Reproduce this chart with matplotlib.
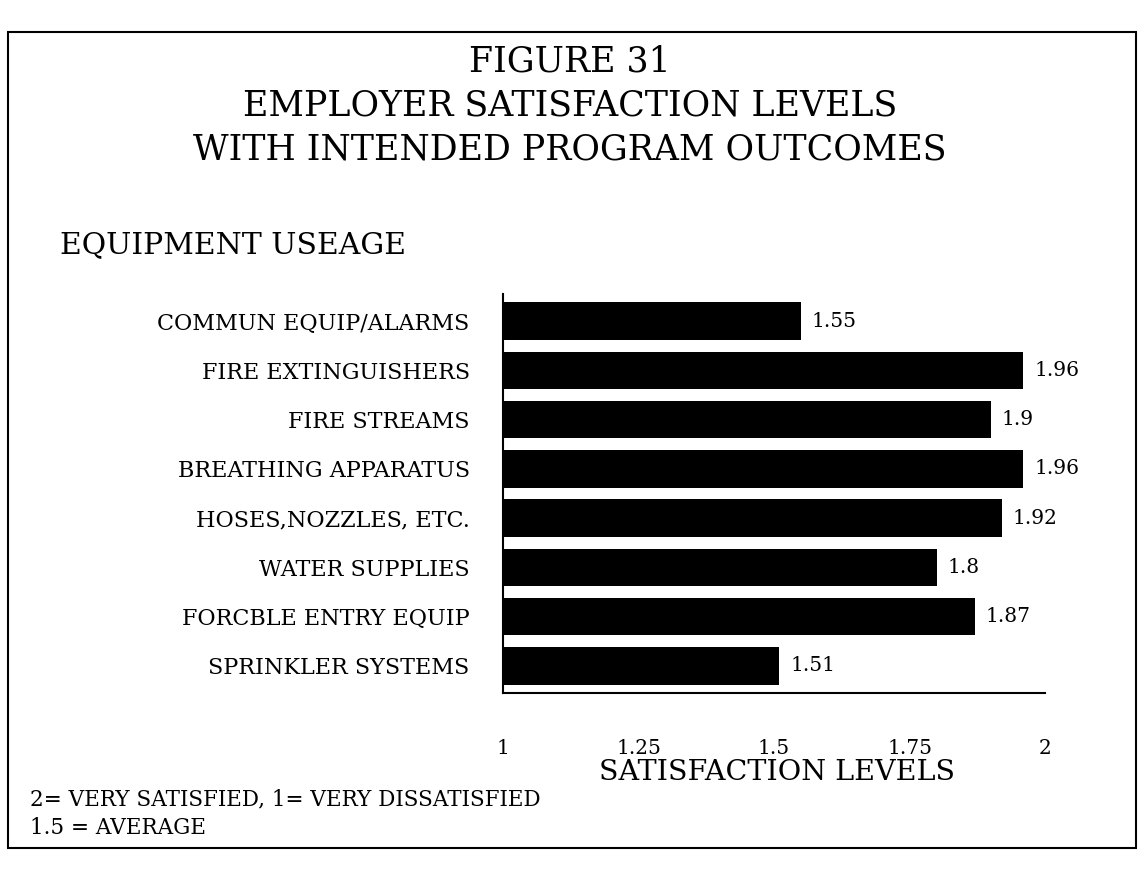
import matplotlib
matplotlib.use("Agg")
import matplotlib.pyplot as plt
from matplotlib.patches import Rectangle

categories = ["COMMUN EQUIP/ALARMS", "FIRE EXTINGUISHERS", "FIRE STREAMS",
              "BREATHING APPARATUS", "HOSES,NOZZLES, ETC.", "WATER SUPPLIES",
              "FORCBLE ENTRY EQUIP", "SPRINKLER SYSTEMS"]
values = [1.55, 1.96, 1.9, 1.96, 1.92, 1.8, 1.87, 1.51]
value_labels = ["1.55", "1.96", "1.9", "1.96", "1.92", "1.8", "1.87", "1.51"]
xticks = [1, 1.25, 1.5, 1.75, 2]
xtick_labels = ["1", "1.25", "1.5", "1.75", "2"]

W, H = 1139, 891
fig = plt.figure(figsize=(W / 100, H / 100), dpi=100)
fig.patch.set_facecolor("white")

serif = ["DejaVu Serif"]

ax = fig.add_axes([503 / W, 1 - 693 / H, (1045 - 503) / W, (693 - 294) / H])
y = list(range(len(categories)))
ax.barh(y, [v - 1 for v in values], left=1, height=0.76, color="black")
ax.set_ylim(len(categories) - 0.5 + 0.05, -0.5 - 0.05)
ax.set_xlim(1, 2)
ax.set_yticks(y)
ax.set_yticklabels(categories, family=serif, fontsize=16)
ax.set_xticks(xticks)
ax.set_xticklabels(xtick_labels, family=serif, fontsize=14.5)
ax.tick_params(axis="x", length=0, pad=33)
ax.tick_params(axis="y", length=0, pad=24)
for s in ["top", "right"]:
    ax.spines[s].set_visible(False)
ax.spines["left"].set_linewidth(1.5)
ax.spines["bottom"].set_linewidth(1.5)
for yi, v, lab in zip(y, values, value_labels):
    ax.text(v + 0.02, yi, lab, va="center", ha="left", family=serif, fontsize=14.5)

fig.text(570 / W, 1 - 62 / H, "FIGURE 31", ha="center", va="center", family=serif, fontsize=25)
fig.text(570 / W, 1 - 106 / H, "EMPLOYER SATISFACTION LEVELS", ha="center", va="center", family=serif, fontsize=25)
fig.text(570 / W, 1 - 150 / H, "WITH INTENDED PROGRAM OUTCOMES", ha="center", va="center", family=serif, fontsize=25)
fig.text(60 / W, 1 - 245 / H, "EQUIPMENT USEAGE", ha="left", va="center", family=serif, fontsize=21.5)
fig.text(777 / W, 1 - 772 / H, "SATISFACTION LEVELS", ha="center", va="center", family=serif, fontsize=20.5)
fig.text(30 / W, 1 - 799 / H, "2= VERY SATISFIED, 1= VERY DISSATISFIED", ha="left", va="center", family=serif, fontsize=15.5)
fig.text(30 / W, 1 - 828 / H, "1.5 = AVERAGE", ha="left", va="center", family=serif, fontsize=15.5)

fig.patches.append(Rectangle((8 / W, 1 - 848 / H), (1136 - 8) / W, (848 - 32) / H,
                             transform=fig.transFigure, fill=False, edgecolor="black", linewidth=1.5))

fig.savefig("out.png", dpi=100)
